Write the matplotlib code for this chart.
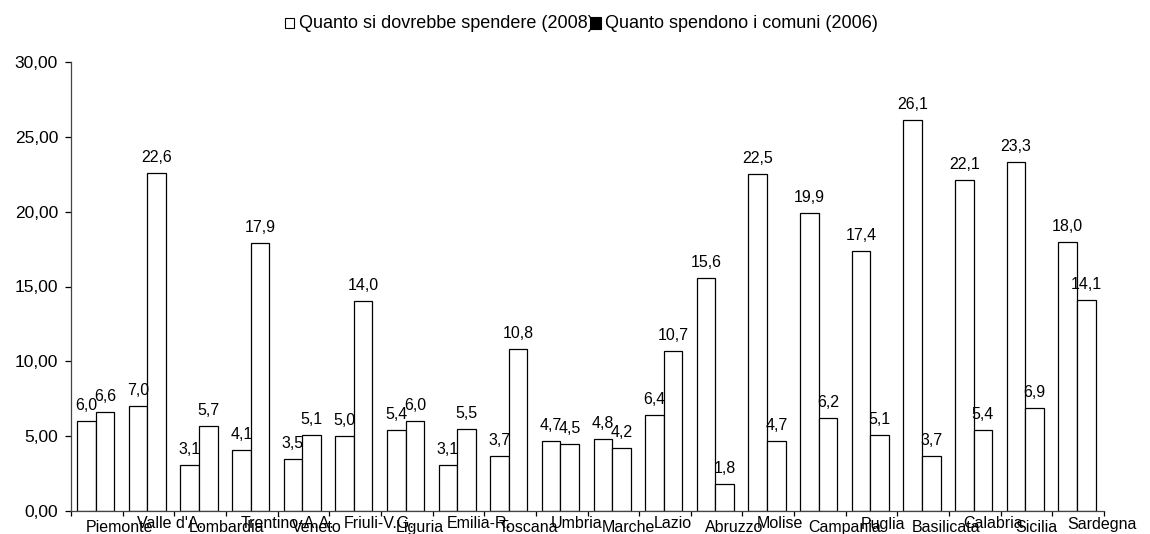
import matplotlib
matplotlib.use("Agg")
import matplotlib.pyplot as plt
from matplotlib.patches import Rectangle
from matplotlib.ticker import FuncFormatter

regioni = ["Piemonte", "Valle d'A.", "Lombardia", "Trentino-A.A.", "Veneto",
           "Friuli-V.G.", "Liguria", "Emilia-R.", "Toscana", "Umbria", "Marche",
           "Lazio", "Abruzzo", "Molise", "Campania", "Puglia", "Basilicata",
           "Calabria", "Sicilia", "Sardegna"]
dovrebbe_2008 = [6.0, 7.0, 3.1, 4.1, 3.5, 5.0, 5.4, 3.1, 3.7, 4.7, 4.8,
                 6.4, 15.6, 22.5, 19.9, 17.4, 26.1, 22.1, 23.3, 18.0]
spendono_2006 = [6.6, 22.6, 5.7, 17.9, 5.1, 14.0, 6.0, 5.5, 10.8, 4.5, 4.2,
                 10.7, 1.8, 4.7, 6.2, 5.1, 3.7, 5.4, 6.9, 14.1]
serie = ["Quanto si dovrebbe spendere (2008)", "Quanto spendono i comuni (2006)"]

plt.rcParams['font.family'] = ['Liberation Sans', 'DejaVu Sans']
FS = 11.5

W, H = 1150, 534
fig = plt.figure(figsize=(W / 100, H / 100), dpi=100)
ax_l, ax_r, ax_b, ax_t = 71, 1104, 511, 62
ax = fig.add_axes([ax_l / W, (H - ax_b) / H, (ax_r - ax_l) / W, (ax_b - ax_t) / H])

n = len(regioni)
bw = 0.36
x1 = [i + 0.117 + bw / 2 for i in range(n)]
x2 = [i + 0.117 + 1.5 * bw for i in range(n)]
ax.bar(x1, dovrebbe_2008, width=bw, color='white', edgecolor='black', linewidth=0.9)
ax.bar(x2, spendono_2006, width=bw, color='white', edgecolor='black', linewidth=0.9)

def fmt(v):
    return f"{v:.1f}".replace('.', ',')

for xs, vals in ((x1, dovrebbe_2008), (x2, spendono_2006)):
    for x, v in zip(xs, vals):
        ax.annotate(fmt(v), xy=(x, v), xytext=(0, 7.9), textcoords='offset points',
                    ha='center', va='baseline', fontsize=FS)

ax.set_xlim(0, n)
ax.set_ylim(0, 30)
ax.set_yticks([0, 5, 10, 15, 20, 25, 30])
ax.yaxis.set_major_formatter(FuncFormatter(lambda v, p: f"{v:.2f}".replace('.', ',')))
ax.set_xticks(range(n + 1))
ax.set_xticklabels([])
ax.tick_params(axis='y', direction='out', length=4.3, width=0.9, pad=5, labelsize=12.5)
ax.tick_params(axis='x', direction='out', length=3.8, width=0.9)
for s in ('top', 'right'):
    ax.spines[s].set_visible(False)
for s in ('left', 'bottom'):
    ax.spines[s].set_color('#444444')
    ax.spines[s].set_linewidth(0.9)

for i, r in enumerate(regioni):
    off = -14.9 if i % 2 == 0 else -12.6
    ax.annotate(r, xy=(i + 0.282, 0), xycoords=('data', 'axes fraction'),
                xytext=(0, off), textcoords='offset points',
                ha='left', va='baseline', fontsize=FS, annotation_clip=False)

# legend
LFS = 13
ly = 1 - 23 / H
fig.patches.append(Rectangle((285 / W, ly - 4.5 / H), 9 / W, 9 / H, transform=fig.transFigure,
                             facecolor='white', edgecolor='black', linewidth=0.8))
fig.text(299 / W, ly, serie[0], ha='left', va='center', fontsize=LFS, zorder=1)
fig.patches.append(Rectangle((590 / W, ly - 5.5 / H), 11 / W, 11 / H, transform=fig.transFigure,
                             facecolor='black', edgecolor='black', linewidth=0.8, zorder=5))
fig.text(605 / W, ly, serie[1], ha='left', va='center', fontsize=LFS)

fig.savefig("out.png", dpi=100)
